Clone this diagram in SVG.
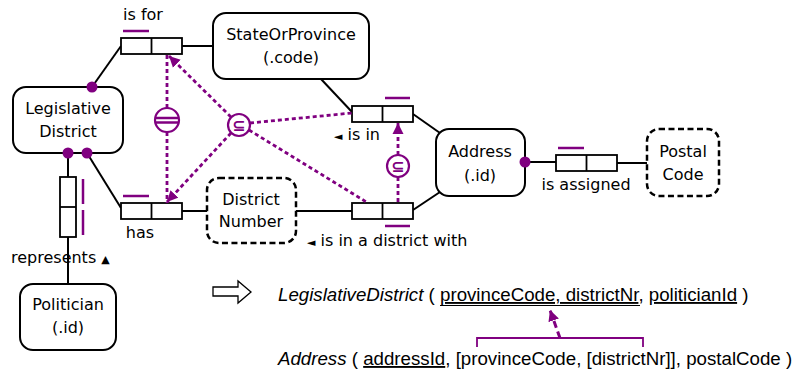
<svg xmlns="http://www.w3.org/2000/svg" width="796" height="374" viewBox="0 0 796 374">
<defs>
<style>
.node{fill:#fff;stroke:#000;stroke-width:2}
.dnode{fill:#fff;stroke:#000;stroke-width:2.5;stroke-dasharray:6 3.5}
.role{fill:#fff;stroke:#000;stroke-width:1.8}
.ln{stroke:#000;stroke-width:2;fill:none}
.uc{stroke:#800080;stroke-width:2.5;fill:none}
.dot{fill:#800080}
.cons{stroke:#800080;stroke-width:2.8;fill:none;stroke-dasharray:4 3}
.circ{fill:#fff;stroke:#800080;stroke-width:2.2}
.sym{font-family:"DejaVu Sans",sans-serif;font-size:16px;font-weight:bold;fill:#800080;text-anchor:middle}
.t{font-family:"DejaVu Sans",Verdana,sans-serif;font-size:16px;fill:#000}
.c{text-anchor:middle}
.b{font-family:"Liberation Sans",Arial,sans-serif;font-size:18.7px;fill:#000}
</style>
<marker id="ah" markerUnits="userSpaceOnUse" markerWidth="12" markerHeight="12" viewBox="0 0 12 12" refX="11" refY="6" orient="auto">
<path d="M0,0.5 L11,6 L0,11.5 z" fill="#800080"/>
</marker>
</defs>

<g id="connectors">
<line class="ln" x1="92" y1="87" x2="121" y2="46"/>
<line class="ln" x1="182" y1="46" x2="213" y2="46"/>
<line class="ln" x1="68" y1="153" x2="68" y2="177"/>
<line class="ln" x1="68" y1="237" x2="68" y2="284"/>
<line class="ln" x1="87" y1="153" x2="121" y2="208"/>
<line class="ln" x1="182" y1="211" x2="207" y2="211"/>
<line class="ln" x1="296" y1="211" x2="352" y2="211"/>
<line class="ln" x1="321" y1="79" x2="352" y2="112"/>
<line class="ln" x1="413" y1="114" x2="440" y2="133"/>
<line class="ln" x1="413" y1="210" x2="440" y2="192"/>
<line class="ln" x1="525" y1="162" x2="556" y2="162"/>
<line class="ln" x1="617" y1="163" x2="647" y2="163"/>
</g>

<g id="node-StateOrProvince">
<rect class="node" x="213" y="13" width="156" height="66" rx="13"/>
<text class="t c" x="291" y="40">StateOrProvince</text>
<text class="t c" x="291" y="63">(.code)</text>
</g>
<g id="node-LegislativeDistrict">
<rect class="node" x="13" y="87" width="110" height="66" rx="13"/>
<text class="t c" x="68" y="114">Legislative</text>
<text class="t c" x="68" y="137">District</text>
</g>
<g id="node-Address">
<rect class="node" x="436" y="129" width="89" height="67" rx="13"/>
<text class="t c" x="480" y="157">Address</text>
<text class="t c" x="480" y="181">(.id)</text>
</g>
<g id="node-PostalCode">
<rect class="dnode" x="647" y="129" width="72" height="67" rx="12"/>
<text class="t c" x="683" y="157">Postal</text>
<text class="t c" x="683" y="180">Code</text>
</g>
<g id="node-DistrictNumber">
<rect class="dnode" x="207" y="178" width="89" height="65" rx="12"/>
<text class="t c" x="251" y="205">District</text>
<text class="t c" x="251" y="227">Number</text>
</g>
<g id="node-Politician">
<rect class="node" x="20" y="284" width="96" height="66" rx="13"/>
<text class="t c" x="68" y="310">Politician</text>
<text class="t c" x="68" y="333">(.id)</text>
</g>

<g id="fact-isfor">
<rect class="role" x="121" y="38" width="61" height="16"/>
<line class="role" x1="151.5" y1="38" x2="151.5" y2="54"/>
<line class="uc" x1="123" y1="31" x2="149" y2="31"/>
<text class="t c" x="143" y="20">is for</text>
</g>
<g id="fact-has">
<rect class="role" x="121" y="203" width="61" height="16"/>
<line class="role" x1="151.5" y1="203" x2="151.5" y2="219"/>
<line class="uc" x1="123" y1="196" x2="149" y2="196"/>
<text class="t c" x="140" y="238">has</text>
</g>
<g id="fact-represents">
<rect class="role" x="60" y="177" width="16" height="60"/>
<line class="role" x1="60" y1="207" x2="76" y2="207"/>
<line class="uc" x1="83" y1="179" x2="83" y2="204"/>
<line class="uc" x1="83" y1="210" x2="83" y2="235"/>
<text class="t" x="11" y="263">represents <tspan font-size="11">▲</tspan></text>
</g>
<g id="fact-isin">
<rect class="role" x="352" y="106" width="61" height="16"/>
<line class="role" x1="382.5" y1="106" x2="382.5" y2="122"/>
<line class="uc" x1="385" y1="98" x2="410" y2="98"/>
<text class="t" x="334" y="140"><tspan font-size="11">◄</tspan> is in</text>
</g>
<g id="fact-isinadistrictwith">
<rect class="role" x="352" y="203" width="61" height="16"/>
<line class="role" x1="382.5" y1="203" x2="382.5" y2="219"/>
<line class="uc" x1="385" y1="226" x2="410" y2="226"/>
<text class="t" x="307" y="246"><tspan font-size="11">◄</tspan> is in a district with</text>
</g>
<g id="fact-isassigned">
<rect class="role" x="556" y="155" width="61" height="16"/>
<line class="role" x1="586.5" y1="155" x2="586.5" y2="171"/>
<line class="uc" x1="558" y1="148" x2="584" y2="148"/>
<text class="t c" x="586" y="190">is assigned</text>
</g>

<g id="dots">
<circle class="dot" cx="92" cy="87" r="5.5"/>
<circle class="dot" cx="68" cy="153" r="5.5"/>
<circle class="dot" cx="87" cy="153" r="5.5"/>
<circle class="dot" cx="525" cy="162" r="5.5"/>
</g>

<g id="constraints">
<line class="cons" x1="167" y1="55" x2="167" y2="108"/>
<line class="cons" x1="167" y1="132" x2="167" y2="203"/>
<line class="cons" x1="231" y1="117" x2="169" y2="56" marker-end="url(#ah)"/>
<line class="cons" x1="231" y1="133" x2="167" y2="202" marker-end="url(#ah)"/>
<line class="cons" x1="250" y1="123" x2="352" y2="113"/>
<line class="cons" x1="249" y1="130" x2="368" y2="203"/>
<line class="cons" x1="398" y1="155" x2="398" y2="123" marker-end="url(#ah)"/>
<line class="cons" x1="398" y1="177" x2="398" y2="203"/>
</g>
<g id="eq-constraint">
<circle class="circ" cx="167" cy="120" r="12"/>
<line class="uc" stroke-width="2" x1="155.5" y1="118" x2="178.5" y2="118"/>
<line class="uc" stroke-width="2" x1="155.5" y1="122.5" x2="178.5" y2="122.5"/>
</g>
<g id="subset-1">
<circle class="circ" cx="239" cy="125" r="11"/>
<text class="sym" x="239" y="131">⊆</text>
</g>
<g id="subset-2">
<circle class="circ" cx="398" cy="166" r="11"/>
<text class="sym" x="398" y="172">⊆</text>
</g>

<g id="mapping">
<polygon points="213,287 238,287 238,281 251,292 238,303 238,296 213,296" fill="#fff" stroke="#000" stroke-width="1.3"/>
<text class="b" x="278" y="301"><tspan font-style="italic">LegislativeDistrict</tspan> ( <tspan text-decoration="underline">provinceCode, districtNr</tspan>, <tspan text-decoration="underline">politicianId</tspan> )</text>
<line x1="440" y1="305.5" x2="640" y2="305.5" stroke="#000" stroke-width="1.2"/>
<text class="b" x="278" y="365"><tspan font-style="italic">Address</tspan> ( <tspan text-decoration="underline">addressId</tspan>, [provinceCode, [districtNr]], postalCode )</text>
<path d="M477,347 V338 H643 V347" stroke="#800080" stroke-width="1.8" fill="none"/>
<line x1="560" y1="338" x2="550" y2="310" stroke="#800080" stroke-width="3" stroke-dasharray="7 4" marker-end="url(#ah)"/>
</g>
</svg>
